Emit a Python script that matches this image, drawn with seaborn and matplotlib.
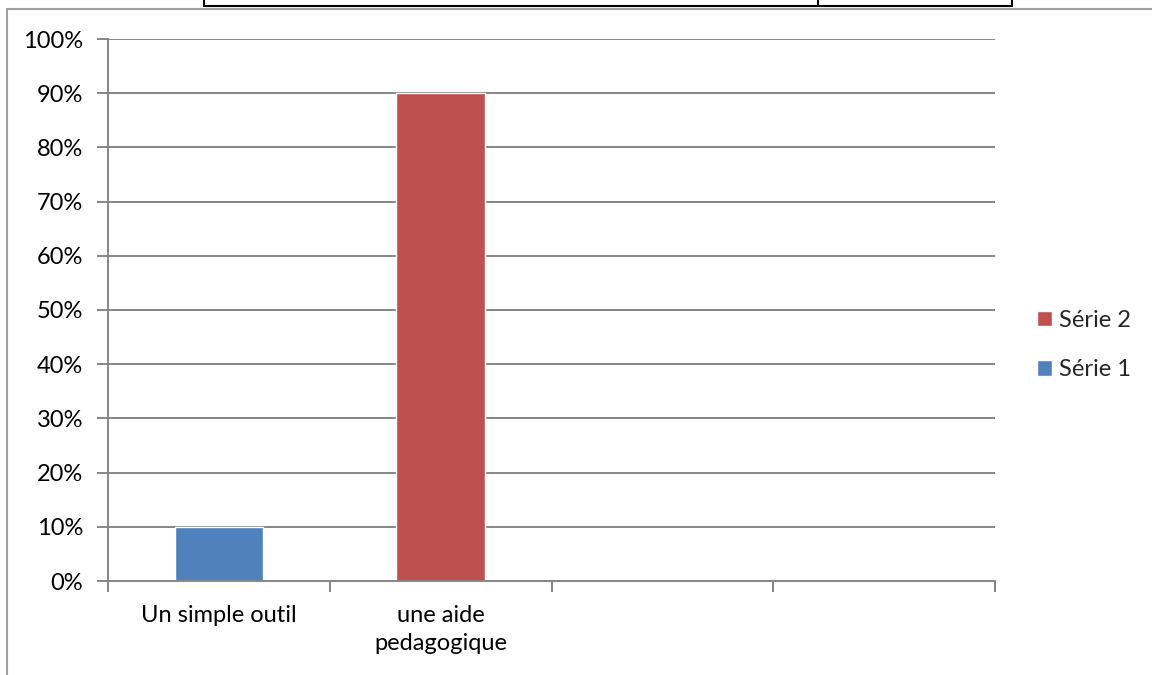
import numpy as np
import pandas as pd
import matplotlib
matplotlib.use("Agg")
import matplotlib.pyplot as plt
from matplotlib.lines import Line2D
from matplotlib.ticker import FixedLocator, PercentFormatter
import seaborn as sns

categories = ["Un simple outil", "une aide\npedagogique"]
serie1 = [0.10, 0.0]
serie2 = [0.0, 0.90]
series_names = ["Série 1", "Série 2"]
series_colors = ["#4F81BD", "#C0504D"]
n_slots = 4


def buildFrame() -> pd.DataFrame:
    rows = []
    for name, values in zip(series_names, [serie1, serie2]):
        for cat, v in zip(categories, values):
            rows.append({"categorie": cat, "valeur": v, "serie": name})
    return pd.DataFrame(rows)


def plotChart():
    sns.set_style("white")
    plt.rcParams["font.family"] = ["Lato", "DejaVu Sans"]
    fs = 17
    plt.rcParams["font.size"] = fs

    df = buildFrame()

    fig = plt.figure(figsize=(11.52, 6.75), dpi=100)
    W, H = 1152, 675
    ax = fig.add_axes([108 / W, 1 - 581 / H, (995 - 108) / W, (581 - 39) / H])

    sns.barplot(data=df, x="categorie", y="valeur", hue="serie", hue_order=series_names,
                palette=series_colors, dodge=False, width=0.4, saturation=1,
                order=categories, ax=ax, legend=True)

    ax.set_xlim(-0.5, n_slots - 0.5)
    ax.set_ylim(0, 1)
    ax.set_xlabel("")
    ax.set_ylabel("")

    grid_col = "#868686"
    ax.yaxis.set_major_locator(FixedLocator(np.arange(0, 1.01, 0.1)))
    ax.yaxis.set_major_formatter(PercentFormatter(1.0, decimals=0))
    ax.grid(axis="y", color=grid_col, linewidth=1.4)
    ax.set_axisbelow(True)

    for side in ["top", "right"]:
        ax.spines[side].set_visible(False)
    ax.spines["left"].set_color(grid_col)
    ax.spines["bottom"].set_color(grid_col)
    ax.spines["left"].set_linewidth(1.4)
    ax.spines["bottom"].set_linewidth(1.4)

    ax.tick_params(axis="y", which="major", length=8, width=1.4, color=grid_col,
                   pad=10, labelsize=fs, labelcolor="black", left=True)
    ax.set_xticks(range(len(categories)))
    ax.set_xticklabels(categories, ha="center", va="top", linespacing=1.45)
    ax.xaxis.set_minor_locator(FixedLocator(np.arange(-0.5, n_slots, 1.0)))
    ax.tick_params(axis="x", which="major", length=0, pad=17, labelsize=fs, labelcolor="black")
    ax.tick_params(axis="x", which="minor", length=8, width=1.4, color=grid_col, bottom=True)

    handles, labels = ax.get_legend_handles_labels()
    ax.legend(handles[::-1], labels[::-1], loc="center left",
              bbox_to_anchor=(1037 / W, 1 - 345 / H), bbox_transform=fig.transFigure,
              frameon=False, borderaxespad=0, borderpad=0, fontsize=fs,
              handlelength=0.64, handleheight=0.64, handletextpad=0.3, labelspacing=1.2)

    # cadre du tableau autour du graphique
    frame_col = "#A0A0A0"
    fig.add_artist(Line2D([7 / W, 7 / W], [0, 1 - 9 / H], color=frame_col, linewidth=1.5,
                          transform=fig.transFigure))
    fig.add_artist(Line2D([7 / W, 1], [1 - 9 / H, 1 - 9 / H], color=frame_col, linewidth=1.5,
                          transform=fig.transFigure))
    fig.add_artist(Line2D([204 / W, 1012 / W], [1 - 6 / H, 1 - 6 / H], color="black",
                          linewidth=1.5, transform=fig.transFigure))
    for xpix in [204, 818, 1012]:
        fig.add_artist(Line2D([xpix / W, xpix / W], [1 - 6 / H, 1], color="black",
                              linewidth=1.5, transform=fig.transFigure))

    fig.savefig("out.png", dpi=100)
    plt.close(fig)


if __name__ == "__main__":
    plotChart()
